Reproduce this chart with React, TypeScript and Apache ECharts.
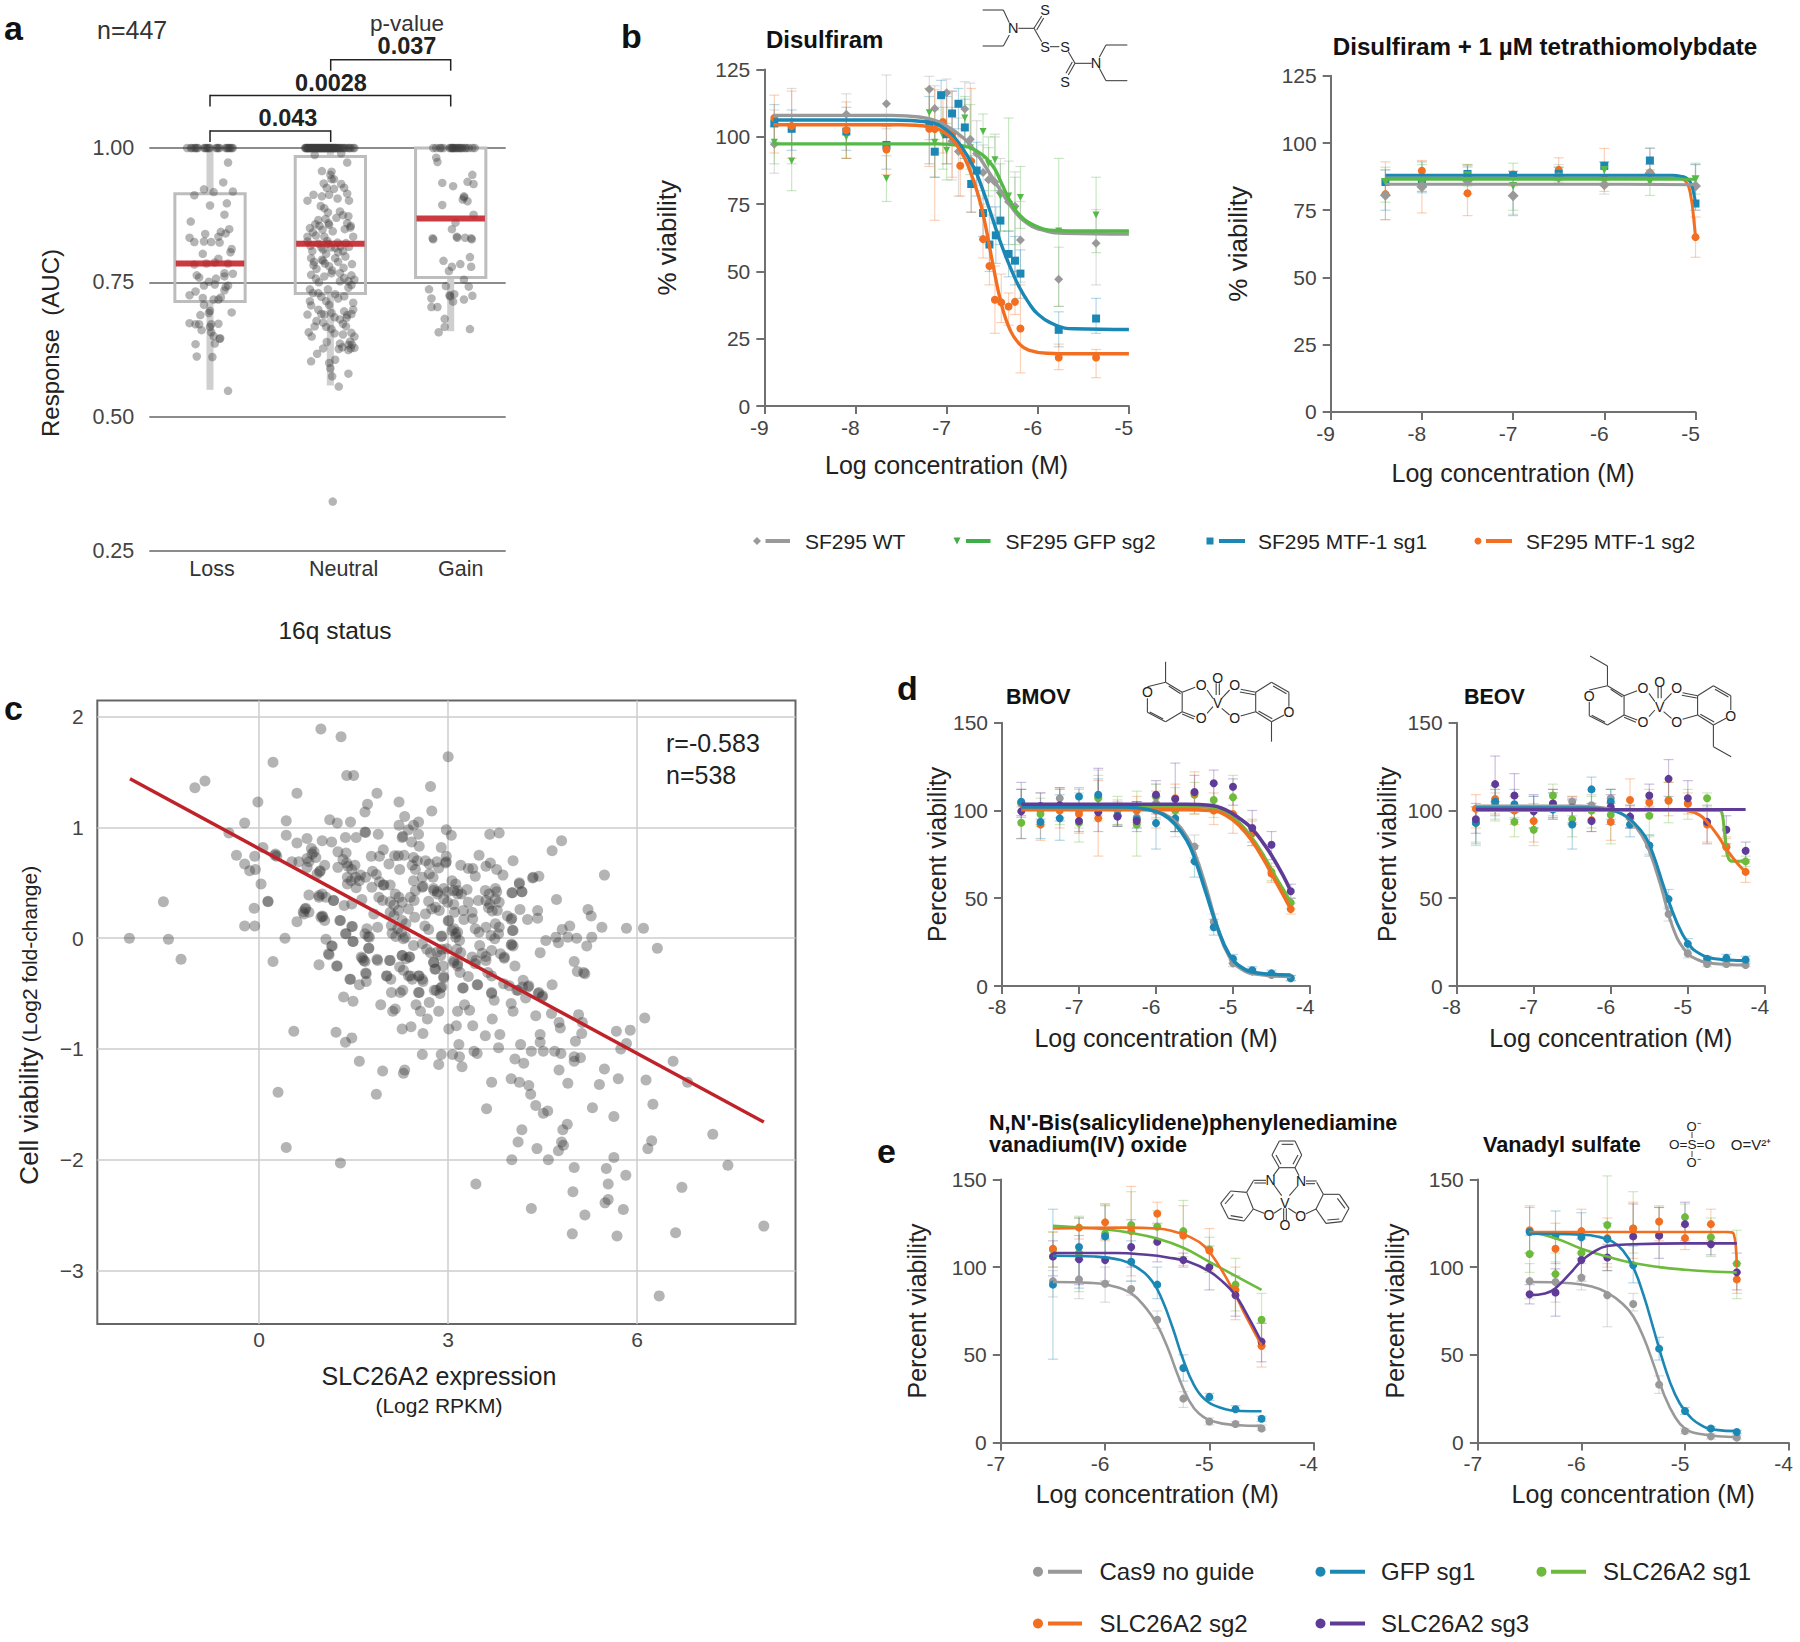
import React, { useEffect, useRef } from "react";
import * as echarts from "echarts";

const F = "'Liberation Sans', Arial, sans-serif";
const AC = "#707070";
const LC = "#444";
const TC = "#222";
const GRAY = "#999999";
const GREEN = "#55b947";
const BLUE = "#1b87b5";
const ORANGE = "#f26f21";
const PURPLE = "#5f3b98";

// ---------- panel a ----------
const aCategories = ["Loss", "Neutral", "Gain"];
const aPositions = [1, 2, 3];
const aLow = [0.55, 0.558, 0.659];
const aQ1 = [0.7145, 0.729, 0.759];
const aMedian = [0.785, 0.822, 0.869];
const aQ3 = [0.915, 0.984, 1.0];
const aHigh = [1.0, 1.0, 1.0];
const aLossAtOne = [.81,.84,.85,.87,.88,.89,.9,.95,.96,.97,.98,.99,1.0,1.05,1.06,1.07,1.08,1.13,1.14,1.15,1.16,1.17,1.18,1.19];
const aNeutralAtOne = [1.79,1.795,1.8,1.805,1.81,1.815,1.82,1.825,1.83,1.835,1.84,1.845,1.85,1.855,1.86,1.865,1.87,1.875,1.88,1.885,1.89,1.895,1.9,1.905,1.91,1.915,1.92,1.925,1.93,1.935,1.94,1.945,1.95,1.955,1.96,1.965,1.97,1.975,1.98,1.985,1.99,1.995,2,2.005,2.01,2.015,2.02,2.025,2.03,2.035,2.04,2.045,2.05,2.06,2.065,2.07,2.08,2.09,2.1,2.11,2.12,2.13,2.15,2.16,2.17,2.19,2.2];
const aGainAtOne = [2.855,2.88,2.91,2.92,2.94,2.99,3.0,3.01,3.015,3.02,3.03,3.04,3.05,3.06,3.07,3.08,3.09,3.1,3.12,3.13,3.15,3.18,3.2];
const aLoss = [[1.15,.973],[1.11,.936],[.95,.923],[1.03,.918],[.87,.912],[1.19,.919],[1.14,.897],[1,.893],[1.12,.876],[.84,.863],[1.16,.849],[.96,.84],[1.09,.844],[1.13,.841],[.83,.833],[1.07,.835],[.87,.825],[.95,.826],[1.01,.825],[1.08,.824],[1.18,.812],[1.17,.806],[.94,.803],[1.07,.794],[.97,.785],[1.04,.787],[1.15,.785],[.87,.783],[.89,.763],[1.12,.767],[1.19,.766],[.91,.759],[1.12,.761],[1.05,.757],[.99,.751],[.95,.744],[1.04,.746],[1.13,.741],[1.15,.744],[.88,.733],[.83,.726],[1.12,.735],[.94,.721],[1.09,.722],[1.03,.718],[1.07,.718],[.95,.708],[1,.697],[1.18,.694],[.92,.689],[.99,.693],[.83,.674],[.88,.672],[.91,.672],[1.01,.672],[1,.667],[1.07,.673],[.93,.661],[1.01,.657],[1.03,.65],[1.08,.645],[1.085,.646],[.88,.635],[1.04,.636],[.89,.612],[1.02,.611],[1.15,.548]];
const aNeutral = [[1.87,.987],[2.09,.99],[2.14,.973],[1.93,.957],[2.01,.956],[2,.95],[2.03,.942],[1.945,.934],[1.97,.926],[2.01,.942],[2.09,.933],[2.115,.926],[2.03,.924],[1.86,.913],[1.81,.902],[1.93,.91],[1.99,.913],[2.06,.906],[2.14,.915],[2.155,.902],[1.92,.892],[1.95,.888],[1.98,.88],[2.08,.882],[2.105,.875],[2.15,.873],[2.05,.87],[1.9,.866],[1.875,.858],[1.96,.868],[1.985,.86],[2.14,.86],[2.165,.852],[1.83,.851],[1.855,.843],[1.91,.855],[1.935,.848],[1.99,.857],[2.17,.855],[2.02,.845],[1.81,.835],[1.88,.837],[1.95,.835],[1.975,.827],[2.12,.849],[2.19,.835],[1.81,.826],[1.835,.818],[1.9,.822],[1.925,.815],[1.98,.822],[2.005,.815],[2.06,.824],[2.085,.817],[2.13,.823],[2.155,.816],[1.85,.808],[1.94,.811],[1.965,.803],[2.04,.814],[2.065,.806],[2.105,.808],[1.84,.795],[1.865,.788],[1.93,.792],[1.955,.785],[2.04,.795],[2.065,.788],[2.125,.798],[1.86,.782],[1.885,.775],[1.99,.78],[2.015,.772],[1.94,.79],[2.18,.784],[2.11,.777],[2.01,.767],[1.84,.764],[1.95,.761],[1.88,.757],[1.905,.75],[2.08,.767],[2.175,.763],[2.2,.755],[2.115,.758],[2.08,.752],[2.15,.752],[2.175,.745],[1.83,.737],[1.855,.73],[1.9,.73],[1.925,.723],[1.98,.737],[2.04,.728],[2.065,.72],[2.115,.724],[2.15,.74],[1.83,.715],[1.965,.715],[1.99,.708],[1.84,.707],[2.19,.712],[1.9,.699],[1.925,.691],[2.01,.693],[2.035,.685],[2.115,.696],[2.14,.689],[2.19,.699],[2.175,.691],[1.81,.69],[1.95,.69],[2.08,.681],[2.105,.673],[2.135,.684],[1.885,.678],[1.94,.675],[1.965,.667],[1.87,.668],[2.01,.663],[2.035,.655],[2.13,.668],[1.82,.657],[1.845,.649],[2.175,.656],[2.2,.649],[2.105,.653],[1.97,.639],[2.08,.636],[2.1,.629],[2.15,.634],[2.17,.627],[2.18,.634],[2.2,.628],[2.165,.64],[1.94,.627],[2.07,.626],[2.15,.624],[1.89,.617],[1.84,.603],[2.04,.606],[1.99,.6],[2,.59],[2.15,.58],[2.015,.575],[2.07,.556],[2.02,.342]];
const aGain = [[2.88,.982],[2.89,.974],[3.18,.95],[2.93,.935],[3.02,.929],[3.14,.937],[3.19,.933],[3.11,.91],[3.112,.908],[3.1,.904],[3.14,.901],[2.93,.894],[3.19,.876],[3.04,.861],[3.01,.849],[2.85,.832],[2.855,.83],[3.05,.835],[3.055,.833],[3.12,.833],[3.17,.832],[3.175,.83],[3.16,.797],[2.94,.79],[3.08,.784],[3.01,.779],[3.17,.779],[2.985,.771],[3.11,.755],[2.96,.743],[2.82,.737],[3.15,.742],[2.99,.726],[2.995,.724],[3.03,.728],[2.84,.72],[3.18,.725],[3.11,.718],[3.02,.714],[2.84,.704],[2.89,.704],[2.95,.682],[2.95,.667],[2.9,.657],[3.16,.663]];

// ---------- panel b ----------
const b1WT = [[-8.89,97.3,86.5,110],[-8.7,104.2,90,118],[-8.1,108.4,92,116],[-7.66,112.3,103,123],[-7.19,117.7,106,122.5],[-7.13,110.5,99,119],[-7,116.4,101,121.5],[-6.94,98.5,84,111],[-6.87,94.6,78,107],[-6.8,110.4,92,120.5],[-6.74,99.1,88,120],[-6.67,93.8,82,106],[-6.6,86.8,77,97],[-6.54,84.1,74,96],[-6.47,83.2,68,100],[-6.41,79.2,65,92],[-6.32,75.9,60,91],[-6.25,74.2,50,87],[-6.19,61.7,46,76],[-5.77,47.1,37,59],[-5.36,60.5,45,73]];
const b1GFP = [[-8.89,98,90,104],[-8.7,91,80,105],[-8.1,100,92,108],[-7.66,84.5,76,93],[-7.19,109,99,118],[-7.13,98,85,110],[-7.04,100.5,88,111],[-7,95,84,105],[-6.8,107,97,115],[-6.74,96,86,112],[-6.6,102,92,108.5],[-6.54,90,78,100],[-6.47,91.5,80,101],[-6.41,78,65,90],[-6.32,78,65,107],[-6.25,73,60,85],[-6.19,77.5,66,89],[-5.77,65,37,92],[-5.36,71,57,85]];
const b1SG1 = [[-8.89,105,98,112],[-8.7,103,95,110],[-8.1,102,95,111],[-7.66,97,88,104],[-7.19,105.5,90,115],[-7.13,94.5,85,106],[-7.06,115.5,104,121],[-7,101,90,115],[-6.94,108.7,98,117],[-6.87,112.3,103,118],[-6.8,103.5,92,114],[-6.73,82.5,72,93],[-6.67,87.5,78,98],[-6.6,71.7,63,80],[-6.53,60,50,71],[-6.46,63.4,53,74],[-6.41,68.9,60,80],[-6.32,56.5,48,65],[-6.25,54,45,63],[-6.19,49.2,40,58],[-5.77,28.3,22,35],[-5.36,32.5,27,40]];
const b1SG2 = [[-8.89,107,94,115.5],[-8.7,104,92,117],[-8.1,102.5,92,113],[-7.66,95.3,86,104],[-7.19,103,89,118],[-7.13,102.9,69,117.5],[-7.04,105.5,94,116],[-7,102.5,90,116],[-6.94,100.9,85,117],[-6.85,89.3,78,100],[-6.73,91,72,118],[-6.6,62,55,75],[-6.53,52,45,60],[-6.47,39.5,27,52],[-6.4,38.5,31,49],[-6.32,37,30,42],[-6.25,38.7,34,50],[-6.19,28.8,12.3,45],[-5.77,18,13.5,23],[-5.36,18,10.5,21]];
const b1WTCurve = [[-8.9,108],[-7.6,108],[-7.3,107.4],[-7.1,105.8],[-6.94,102.8],[-6.74,97],[-6.5,85],[-6.33,76],[-6.16,69],[-5.95,65.4],[-5.7,64.2],[-5,63.9]];
const b1GFPCurve = [[-8.9,97.4],[-7.1,97.4],[-6.85,96.8],[-6.68,95],[-6.5,89.5],[-6.4,83],[-6.31,76.5],[-6.2,71],[-6.03,67],[-5.81,65.2],[-5.5,65],[-5,65]];
const b1SG1Curve = [[-8.9,106.3],[-7.6,106.3],[-7.2,105.5],[-7,102.5],[-6.85,97],[-6.7,88.5],[-6.6,80],[-6.5,70],[-6.4,60],[-6.3,51.4],[-6.2,44],[-6.1,38.4],[-6,34.2],[-5.8,30],[-5.6,28.7],[-5,28.4]];
const b1SG2Curve = [[-8.9,104.5],[-7.5,104.5],[-7.2,103.8],[-7,101],[-6.85,95],[-6.75,88],[-6.65,78],[-6.57,66.5],[-6.5,54],[-6.4,38],[-6.3,28],[-6.2,23],[-6.1,20.8],[-5.9,19.6],[-5.6,19.4],[-5,19.4]];

const b2WT = [[-8.4,80.6,71.5,90],[-8,83.7,82,86],[-7.5,86,81,91],[-7,80.4,73.5,87],[-6.5,87.2,85,92],[-6,84.5,81,88],[-5.5,88.8,85,92],[-5,84,75,92]];
const b2GFP = [[-8.4,85.5,78,91],[-8,85,82,92],[-7.5,88,84,92],[-7,84,75,92.5],[-6.5,87.5,85,91],[-6,90,86,93],[-5.5,85.5,80.5,90],[-5,86.5,81,92.5]];
const b2SG1 = [[-8.4,85.5,75,90],[-8,85.5,81.5,93],[-7.5,88.5,85,91.5],[-7,88,73,89.5],[-6.5,88.5,86,91],[-6,91.5,88,93],[-5.5,93.5,88,98],[-5,77.5,75,92]];
const b2SG2 = [[-8.4,81,71.5,93],[-8,89.7,74,93.5],[-7.5,81.3,73,92],[-7,88.3,84,89.5],[-6.5,90,85,94.5],[-6,87,82,98],[-5.5,89,85,98.2],[-5,65,57.5,72.5]];
const b2WTCurve = [[-8.4,84.7],[-6,84.7],[-5,84.5]];
const b2GFPCurve = [[-8.4,86.5],[-6,86.5],[-5,86.5]];
const b2SG1Curve = [[-8.4,88],[-6,88],[-5.25,88],[-5.15,87.6],[-5.1,87],[-5.05,85],[-5,77.5]];
const b2SG2Curve = [[-8.4,87],[-6,87],[-5.2,87],[-5.1,85.5],[-5.05,80],[-5.02,72],[-5,65]];

// ---------- panel c ----------
const cXTicks = [0, 3, 6];
const cYTicks = [-3, -2, -1, 0, 1, 2];
const fitLine = [[-2.05, 1.44], [8.01, -1.66]];
const cPoints = [[-2.06,0],[-1.52,.33],[-1.44,-.01],[-1.24,-.19],[-1.02,1.36],[-.86,1.42],[-.23,1.04],[-.02,1.23],[.22,1.59],[.43,1.06],[.6,1.31],[.98,1.89],[1.3,1.82],[1.39,1.47],[1.5,1.47],[3,1.64],[2.72,1.37],[2.74,1.15],[2.22,1.23],[1.87,1.31],[1.72,1.21],[1.68,1.14],[2.31,1.1],[1.12,1.07],[1.24,1.04],[1.45,1.05],[2.53,1.05],[2.45,1.02],[2.22,1.02],[2.37,.98],[2.97,.98],[3.05,.93],[2.53,.94],[2.28,.92],[3.66,.94],[3.81,.95],[4.8,.88],[4.65,.79],[3.49,.75],[4.03,.7],[5.48,.57],[-.48,.95],[.43,.93],[.6,.86],[.76,.9],[1,.88],[1.15,.87],[1.37,.91],[1.54,.91],[1.68,.96],[1.69,.955],[1.89,.94],[-.36,.75],[-.23,.67],[-.15,.61],[-.06,.62],[-.07,.74],[.06,.82],[.25,.75],[.03,.49],[.14,.33],[-.08,.27],[-.23,.11],[-.07,.11],[.41,0],[.22,-.21],[.55,-.84],[.3,-1.39],[.43,-1.89],[1.29,-2.03],[1.86,-1.41],[1.96,-1.2],[2.31,-1.19],[2.29,-1.22],[1.59,-1.11],[1.22,-.85],[1.37,-.94],[1.47,-.9],[2.27,-.82],[2.41,-.8],[2.6,-.86],[2.59,-1.05],[2.89,-1.05],[2.85,-1.14],[3.07,-1.05],[3.17,-.96],[3.18,-1.07],[3.22,-1.16],[3.41,-1.02],[3.46,-1.04],[3.39,-.79],[3.59,-.88],[3.82,-.87],[3.8,-.99],[3.69,-1.3],[3.61,-1.54],[3.44,-2.22],[4,-1.27],[4.06,-1.09],[4.2,-1.13],[4.15,-.96],[4.32,-1.02],[4.13,-1.3],[4.28,-1.33],[4.31,-1.41],[4.39,-1.51],[4.51,-1.58],[4.58,-1.56],[4.17,-1.73],[4.11,-1.84],[4.01,-2],[4.41,-1.9],[4.59,-2],[4.32,-2.44],[4.89,-1.68],[4.82,-1.73],[4.8,-1.84],[4.83,-1.87],[4.75,-1.92],[5,-2.07],[4.98,-2.29],[5.17,-2.5],[4.97,-2.67],[5.68,-2.69],[5.78,-2.45],[5.49,-2.39],[5.54,-2.36],[5.54,-2.22],[5.51,-2.08],[5.63,-1.98],[5.82,-2.14],[5.63,-1.61],[5.29,-1.53],[5.4,-1.32],[5.48,-1.18],[5.7,-1.27],[4.9,-1.31],[4.76,-1.19],[5,-1.11],[5,-1.07],[5.1,-1.08],[4.79,-1.04],[4.69,-1.02],[4.51,-1.02],[4.46,-.94],[4.46,-.87],[4.39,-.7],[4.64,-.68],[4.76,-.76],[4.78,-.81],[5.02,-.93],[5.12,-.86],[5.13,-.76],[5.07,-.69],[5.67,-.84],[5.89,-.83],[5.83,-.95],[5.74,-1],[6.12,-.72],[6.14,-1.28],[6.25,-1.5],[6.23,-1.83],[6.17,-1.9],[6.57,-1.11],[6.8,-1.3],[7.2,-1.77],[7.44,-2.05],[6.71,-2.25],[6.61,-2.66],[6.35,-3.23],[8.01,-2.6],[6.32,-.09],[6.1,.09],[5.83,.09],[5.44,.1],[5.28,.01],[5.2,-.07],[5.27,.2],[5.22,.26],[4.93,.11],[4.81,.08],[4.71,.01],[4.75,-.04],[4.55,-.02],[4.9,.01],[5.04,0],[4.46,-.13],[5,-.21],[5.05,-.3],[5.15,-.31],[5.17,-.32],[4.65,-.42],[4.72,.35],[4.35,.55],[4.44,.56],[4.13,.49],[4.17,.42],[4.02,.41],[4.42,.25],[4.42,.18],[4.26,.17],[4.14,.26],
[2.27,.91],[2.42,.87],[2.54,.83],[2.89,.82],[.26,.76],[.28,.74],[.52,.69],[.63,.69],[.76,.72],[.79,.69],[.83,.81],[.87,.78],[.84,.76],[.9,.73],[.76,.64],[.92,.58],[.97,.61],[1.04,.66],[.96,.6],[1.25,.78],[1.38,.77],[1.33,.71],[1.39,.68],[1.25,.64],[1.41,.65],[1.47,.62],[1.52,.66],[1.4,.55],[1.46,.52],[1.53,.55],[1.59,.52],[1.69,.55],[1.61,.57],[1.4,.49],[1.54,.455],[1.8,.605],[1.86,.575],[1.78,.74],[1.91,.74],[1.97,.8],[2.06,.67],[2.15,.745],[2.21,.745],[2.3,.75],[2.23,.62],[2.45,.73],[2.51,.7],[2.43,.66],[2.48,.62],[2.64,.7],[2.7,.67],[2.82,.69],[2.97,.69],[2.85,.635],[2.7,.58],[2.76,.55],[2.45,.52],[2.59,.55],[1.91,.51],[1.97,.48],[1.79,.46],[2.08,.48],[1.98,.48],[2.16,.4],[2.22,.37],[1.9,.37],[1.96,.34],[2.08,.33],[2.14,.3],[2.4,.37],[2.46,.34],[2.48,.43],[2.59,.46],[2.77,.45],[2.83,.42],[2.93,.45],[2.99,.42],[3.06,.52],[3.12,.49],[3.09,.43],[3.15,.4],[2.93,.355],[2.99,.325],[2.8,.28],[2.86,.25],[2.74,.265],[2.69,.335],[.79,.39],[1,.4],[1.06,.37],[.95,.385],[1.18,.34],[1.35,.295],[1.47,.31],[1.63,.35],[.73,.265],[.79,.235],[.71,.22],[1,.2],[1.01,.195],[.6,.15],[.14,.335],[1.28,.16],[1.82,.22],[2.27,.325],[2.21,.25],[2.37,.265],[2.08,.235],[2.14,.205],[2.27,.16],[2.33,.13],[2.47,.19],[2.63,.11],[2.69,.08],[2.64,.22],[1.88,.1],[2.1,.115],[2.11,.045],[2.17,.015],[2.32,.01],[2.2,.085],[2.26,.055],[3.01,.16],[3.06,.07],[3.12,.04],[2.89,.015],[2.66,-.1],[2.72,-.13],[2.45,-.065],[2.59,-.05],[2.82,-.126],[2.88,-.155],[2.98,-.096],[3.09,-.2],[3.15,-.23],[2.77,-.216],[2.8,-.277],[2.93,-.346],[1.47,.105],[1.38,.04],[1.71,.085],[1.68,.04],[1.73,.015],[1.75,.01],[1.06,-.01],[1.16,-.07],[1.49,-.03],[1.74,-.09],[1.11,-.15],[.95,-.24],[1.24,-.25],[1.62,-.17],[1.64,-.18],[1.66,-.2],[1.68,-.21],[1.88,-.2],[2.08,-.2],[2.27,-.155],[2.33,-.185],[2.23,-.26],[2.29,-.29],[2.38,-.17],[1.69,-.315],[1.45,-.37],[2.03,-.34],[2.09,-.37],[2.37,-.34],[2.43,-.37],[2.53,-.34],[2.59,-.37],
[3.2,.66],[3.32,.63],[3.39,.63],[3.43,.56],[3.6,.65],[3.67,.68],[3.77,.62],[3.87,.57],[2.97,.74],[2.96,.68],[2.6,.47],[2.77,.43],[2.83,.4],[3.15,.43],[3.21,.4],[3.3,.44],[3.09,.305],[3.1,.235],[3.24,.25],[3.32,.325],[3.48,.34],[3.38,.235],[3.25,.17],[3.39,.175],[3,.155],[2.9,.02],[3.43,.085],[3.49,.055],[3.6,.34],[3.66,.31],[3.59,.43],[3.65,.4],[3.75,.45],[3.77,.42],[3.75,.355],[3.81,.325],[3.64,.275],[3.7,.245],[3.78,.25],[4.01,.41],[4.17,.42],[4.13,.5],[4.34,.545],[3.94,.2],[4,.17],[4.01,.18],[4.03,.07],[3.6,.1],[3.75,.13],[3.81,.1],[3.68,.025],[3.74,-.005],[3.8,.04],[3.09,.085],[3.15,.055],[3.12,.01],[3.18,-.02],[3.14,-.1],[3.2,-.13],[3.5,-.065],[3.69,-.11],[3.83,-.14],[3.89,-.17],[3.89,-.18],[4.01,-.055],[4.03,-.07],[3.54,-.135],[3.6,-.165],[3.38,-.17],[3.44,-.2],[3.43,-.23],[3.6,-.2],[3.63,-.31],[3.69,-.34],[4.06,-.25],[3.32,-.345],[3.19,-.31],[3.47,-.42],[3.23,-.45],[3.69,-.49],[3.88,-.41],[4.18,-.44],[4.28,-.43],[4.43,-.5],[4.49,-.53],[4.09,-.47],[2.9,-.1],[2.77,-.22],[2.79,-.28],[2.92,-.25],[2.93,-.36],[3.09,-.22],[3.15,-.25],[2.4,-.34],[2.54,-.34],[2.6,-.39],[2.54,-.49],[2.81,-.47],[2.87,-.5],[2.9,-.44],[2.29,-.005],[2.27,-.155],[2.39,-.17],
[4.02,.07],[4,-.06],[3.97,-.43],[4.19,-.38],[4.27,-.44],[4.44,-.49],[4.23,-.54],[4.5,-.52],[4.11,-.47],[3.69,-.5],[3.73,-.56],[4,-.59],[4.03,-.66],[3.7,-.73],[3.15,-.66],[3.26,-.6],[3.34,-.65],[3.13,-.79],[3.01,-.82],[3.24,-.45],[3.46,-.42],[2.85,-.66],[2.67,-.73],[2.49,-.6],[2.56,-.66],[2.7,-.58],[2.53,-.49],[2.78,-.47],[2.88,-.45],[2.28,-.47],[2.24,-.49],[2.1,-.49],[1.93,-.6],[2.12,-.66],[2.16,-.64],[1.34,-.53],[1.49,-.57],[1.44,-.37],[1.59,-.42],[1.7,-.32],[1.7,-.39],[2.02,-.34],[1.87,-.19],[2.07,-.2],[1.23,-.25],[1.1,-.14],[1.15,-.07],[1.37,.04],[1.49,-.03],[1.74,-.09],[1.29,.16],[1.48,.105],[.98,.19],[1.04,.16],[.7,.24],[.74,.27],[.95,.37],[1.18,.34]];

// ---------- panel d ----------
const d1Gray = [[-7.75,104,97,112],[-7.5,100,92,110],[-7.25,106.9,96,113],[-7,100,90,110],[-6.75,108,97,123],[-6.5,100,92,106],[-6.25,96,90,105],[-6,104,95,115],[-5.75,94.5,85,104],[-5.5,79.4,73,86],[-5.25,36.6,32,41],[-5,12.9,11,15],[-4.75,8.2,7,10],[-4.5,6.3,5,8],[-4.25,4.4,3,6]];
const d1Blue = [[-7.75,105,96,112],[-7.5,93.5,84,103],[-7.25,95.5,83,109],[-7,108,100,113],[-6.75,109,101,118],[-6.5,97,91,104],[-6.25,95,90,105],[-6,92.8,78,108],[-5.75,95.5,88,103],[-5.5,71,62,80],[-5.25,33.5,29,38],[-5,15.5,13,18],[-4.75,9,7,11],[-4.5,7.2,6,9],[-4.25,4.5,3,6]];
const d1Green = [[-7.75,93,84,102],[-7.5,98,91,107],[-7.25,102,92,112],[-7,93,82,103],[-6.75,107,94,120],[-6.5,97,92,108],[-6.25,92,74,111],[-6,108,96,115],[-5.75,100,88,113],[-5.5,109,98,116],[-5.25,106,96,115],[-5,107.5,98,120],[-4.75,87,80,95],[-4.5,65,60,70],[-4.25,47.5,44,50]];
const d1Orange = [[-7.75,104.5,97,112],[-7.5,92,83,102],[-7.25,100,90,112],[-7,98,87,112],[-6.75,95.5,74,117],[-6.5,97,91,105],[-6.25,100,93,108],[-6,100,90,111],[-5.75,107,98,115],[-5.5,110,98,122],[-5.25,100,92,110],[-5,98,87,107],[-4.75,87,80,94],[-4.5,64,59,68],[-4.25,43.8,41,47]];
const d1Purple = [[-7.75,99.5,84,116],[-7.5,102.5,95,110],[-7.25,103,94,113],[-7,94,88,103],[-6.75,99,88,124],[-6.5,96.5,91,103],[-6.25,94,88,105],[-6,109,98,117],[-5.75,106.5,88,127],[-5.5,110.5,101,120],[-5.25,115.5,103,123],[-5,113.5,103,118],[-4.75,90,82,100],[-4.5,80.5,72,88],[-4.25,54,50,58]];
const d1GrayCurve = [[-7.75,102],[-6.4,102],[-6.1,100.8],[-5.9,98],[-5.75,93.5],[-5.6,85],[-5.5,76],[-5.35,56],[-5.2,33],[-5.05,17],[-4.9,10],[-4.7,6.8],[-4.25,5.5]];
const d1BlueCurve = [[-7.75,102],[-6.4,102],[-6.1,100.5],[-5.9,97.5],[-5.75,92],[-5.6,83],[-5.5,73],[-5.35,53],[-5.2,33],[-5.05,18],[-4.9,11],[-4.7,7.6],[-4.25,6.3]];
const d1GreenCurve = [[-7.75,102.5],[-5.6,102.5],[-5.3,101.8],[-5.1,99],[-4.9,92],[-4.75,84],[-4.6,74],[-4.5,66],[-4.35,55],[-4.25,47.5]];
const d1OrangeCurve = [[-7.75,100.5],[-5.6,100.5],[-5.3,100],[-5.1,97.5],[-4.9,90.5],[-4.75,82.5],[-4.6,72],[-4.5,64],[-4.35,52],[-4.25,44]];
const d1PurpleCurve = [[-7.75,103.5],[-5.6,103.5],[-5.3,103],[-5.1,100.5],[-4.9,95],[-4.75,89.5],[-4.6,81],[-4.5,74.5],[-4.35,63],[-4.25,54]];

const d2Gray = [[-7.75,93,82,100],[-7.5,103,95,110],[-7.25,102,96,108],[-7,100,94,108],[-6.75,104,97,110],[-6.5,105,97,108],[-6.25,103,93,109],[-6,107,100,112],[-5.75,96,90,102],[-5.5,80,75,85],[-5.25,41,37,45],[-5,18.5,16,21],[-4.75,12.5,11,14],[-4.5,12.5,11,14],[-4.25,12,11,14]];
const d2Blue = [[-7.75,93,81,102],[-7.5,105,97,114],[-7.25,103.5,95,112],[-7,100,90,108],[-6.75,100.5,95,110],[-6.5,92,78,106],[-6.25,112,104,119],[-6,105,95,112],[-5.75,92,85,100],[-5.5,80,74,86],[-5.25,49.5,44,55],[-5,24,21,27],[-4.75,15.5,14,17],[-4.5,16,14,18],[-4.25,15,13,17]];
const d2Green = [[-7.75,93,80,102],[-7.5,105,94,112],[-7.25,93.5,85,102],[-7,89,80,100],[-6.75,108.5,100,115],[-6.5,95,85,106],[-6.25,100,90,108],[-6,97.5,81,112],[-5.75,96,90,103],[-5.5,97,86,106],[-5.25,106,93,116],[-5,104,95,112],[-4.75,107,102,110],[-4.5,79.5,74,85],[-4.25,71,68,74]];
const d2Orange = [[-7.75,101,90,109],[-7.5,106.5,98,112],[-7.25,100,92,108],[-7,94,82,104],[-6.75,103,95,112],[-6.5,102,92,108],[-6.25,94.5,88,104],[-6,93.5,83,104],[-5.75,106,95,118],[-5.5,104.5,98,112],[-5.25,105.5,97,116],[-5,104,98,110],[-4.75,92,82,100],[-4.5,79,74,84],[-4.25,65,59,70]];
const d2Purple = [[-7.75,95,87,104],[-7.5,115,105,131],[-7.25,108.5,99,121],[-7,99.5,90,109],[-6.75,104,96,112],[-6.5,101.5,93,107],[-6.25,94,88,102],[-6,102,92,109],[-5.75,96.5,90,103],[-5.5,108.5,102,115],[-5.25,118,108,129],[-5,107,100,117],[-4.75,93.5,81,103],[-4.5,89,81,97],[-4.25,77,72,82]];
const d2GrayCurve = [[-7.75,102.5],[-6.4,102.5],[-6.1,101.5],[-5.9,99],[-5.75,94.5],[-5.6,86],[-5.5,77],[-5.35,57],[-5.2,34],[-5.05,21],[-4.9,15.5],[-4.7,13],[-4.25,12]];
const d2BlueCurve = [[-7.75,101.5],[-6.3,101.5],[-6.05,100.5],[-5.85,98],[-5.7,93],[-5.55,85],[-5.45,75],[-5.3,55],[-5.15,37],[-5,24.5],[-4.85,18.5],[-4.65,15.5],[-4.25,14.5]];
const d2GreenCurve = [[-7.75,100],[-4.6,100],[-4.56,99],[-4.53,90],[-4.5,78],[-4.47,72.5],[-4.42,71],[-4.25,71]];
const d2OrangeCurve = [[-7.75,100.5],[-5.2,100.5],[-5,99.8],[-4.85,97.5],[-4.75,93.5],[-4.6,85],[-4.5,78],[-4.35,69.5],[-4.25,65]];
const d2PurpleCurve = [[-7.75,100.5],[-6,100.5],[-4.25,100.5]];

// ---------- panel e ----------
const e1Gray = [[-6.5,92,83,98],[-6.25,93,82,104],[-6,90.5,80,100],[-5.75,87.5,84,92],[-5.5,70,65,75],[-5.25,25,20,29],[-5,12,10,14],[-4.75,10.5,9,12],[-4.5,8,7,10]];
const e1Blue = [[-6.5,90,47.5,133],[-6.25,111.5,88,128],[-6,117.5,105,135],[-5.75,103,92,115],[-5.5,90,82,100],[-5.25,42.5,35,50],[-5,26,24,28],[-4.75,19,18,21],[-4.5,13.5,12,15]];
const e1Green = [[-6.5,110,100,120],[-6.25,108,86,129],[-6,119,106,136],[-5.75,124,108,143],[-5.5,123,114,132],[-5.25,120.5,106,138],[-5,110,97,117],[-4.75,90,75,105],[-4.5,70,55,85]];
const e1Orange = [[-6.5,110.5,100,120],[-6.25,122.5,116,128],[-6,125.5,115,136],[-5.75,120.5,95,146],[-5.5,130.5,124,137],[-5.25,118,101,135],[-5,109.5,98,122],[-4.75,87,70,100],[-4.5,55,43,68]];
const e1Purple = [[-6.5,106,95,115],[-6.25,104.5,90,118],[-6,104,92,116],[-5.75,111.5,100,127],[-5.5,114.5,103,125],[-5.25,104,100,108],[-5,100,87,112],[-4.75,84,72,95],[-4.5,57.5,46,68]];
const e1GrayCurve = [[-6.5,91.5],[-6.15,91],[-5.95,89.5],[-5.75,85],[-5.6,76],[-5.5,67],[-5.4,54],[-5.3,38],[-5.2,24.5],[-5.1,16.5],[-4.95,11.8],[-4.75,10],[-4.5,9.5]];
const e1BlueCurve = [[-6.5,106.5],[-6.1,106],[-5.85,104],[-5.7,100],[-5.55,92],[-5.45,81],[-5.35,65],[-5.25,47],[-5.15,33],[-5.05,25],[-4.9,20],[-4.7,18],[-4.5,17.8]];
const e1GreenCurve = [[-6.5,123.5],[-6.25,122.6],[-6,121.5],[-5.75,119.5],[-5.5,116.3],[-5.25,111],[-5,103],[-4.75,95],[-4.5,87]];
const e1OrangeCurve = [[-6.5,122],[-5.8,122.5],[-5.5,122],[-5.35,120.5],[-5.2,117.5],[-5.05,112],[-4.9,100],[-4.75,84],[-4.65,72],[-4.5,55.4]];
const e1PurpleCurve = [[-6.5,108],[-5.9,108],[-5.6,107],[-5.4,105.5],[-5.2,103],[-5,97.5],[-4.87,91.5],[-4.75,84],[-4.65,74],[-4.5,57.4]];

const e2Gray = [[-6.5,92,82,102],[-6.25,91.5,80,103],[-6,94,87,102],[-5.75,84,66,102],[-5.5,79,75,85],[-5.25,33,28,38],[-5,6.5,5,8],[-4.75,3.5,2,5],[-4.5,2.8,2,4]];
const e2Blue = [[-6.5,120,108,134],[-6.25,118,102,132],[-6,117,105,131],[-5.75,116,106,125],[-5.5,101,91,112],[-5.25,53.5,47,60],[-5,18,16,20],[-4.75,8,7,9],[-4.5,6,5,7]];
const e2Green = [[-6.5,107.5,97,118],[-6.25,96,85,108],[-6,108,95,120],[-5.75,124,98,152],[-5.5,122,108,143],[-5.25,118,100,135],[-5,128.5,120,136],[-4.75,117,106,128],[-4.5,102,82,121]];
const e2Orange = [[-6.5,121,108,135],[-6.25,110.5,96,125],[-6,120.5,108,133],[-5.75,116.5,100,128],[-5.5,122,105,137],[-5.25,126,115,134],[-5,116.5,110,123],[-4.75,124.5,115,133],[-4.5,93,85,102]];
const e2Purple = [[-6.5,84.5,79,90],[-6.25,85.5,72,99],[-6,104,92,116],[-5.75,105.5,98,113],[-5.5,117.5,102,136],[-5.25,118,105,134],[-5,124.5,115,137],[-4.75,113,107,120],[-4.5,97,87,108]];
const e2GrayCurve = [[-6.5,91.5],[-6.1,90.8],[-5.9,89],[-5.75,85.5],[-5.6,79],[-5.5,72],[-5.4,60],[-5.3,44],[-5.2,27],[-5.1,15],[-5,8],[-4.85,4.8],[-4.5,3]];
const e2BlueCurve = [[-6.5,119],[-6,118.5],[-5.85,117.5],[-5.7,114.5],[-5.6,109.5],[-5.5,100],[-5.4,84],[-5.3,64],[-5.2,44],[-5.1,28],[-5,18],[-4.85,10],[-4.7,7.2],[-4.5,6.5]];
const e2GreenCurve = [[-6.5,120],[-6.25,116.5],[-6,110.5],[-5.75,106],[-5.5,102.3],[-5.25,100],[-5,98.5],[-4.75,97.5],[-4.5,97]];
const e2OrangeCurve = [[-6.5,120],[-5.5,120],[-4.6,120],[-4.55,119.8],[-4.53,119],[-4.51,112],[-4.5,100]];
const e2PurpleCurve = [[-6.5,84],[-6.35,85],[-6.25,88],[-6.1,97],[-6,103.5],[-5.9,108],[-5.75,112],[-5.5,113],[-5,113.5],[-4.5,113.5]];

// ---------- helpers ----------
const txt = (text: string, x: number, y: number, o: any = {}) => ({
  type: "text", x, y, rotation: o.rot || 0, silent: true, z: 20,
  style: {
    text, fontFamily: F, fontSize: o.size || 24, fontWeight: o.weight || "normal",
    fill: o.color || TC, align: o.align || "left", textAlign: o.align || "left",
    verticalAlign: "middle", textVerticalAlign: "middle",
  },
});
const ln = (x1: number, y1: number, x2: number, y2: number, w = 1.2, color = "#444") => ({
  type: "line", silent: true, z: 20, shape: { x1, y1, x2, y2 }, style: { stroke: color, lineWidth: w },
});

const molecule = (bonds: number[][], atoms: any[], ox: number, oy: number, sx: number, sy: number, size = 13, w = 1) => [
  ...bonds.map((b) => ln(ox + b[0] / sx, oy + b[1] / sy, ox + b[2] / sx, oy + b[3] / sy, w, "#444")),
  ...atoms.map((a) => txt(a[0], ox + a[1] / sx, oy + a[2] / sy, { size, align: "center", color: "#222" })),
];

const disulfiramBonds = [[68,30,130,30],[130,30,148,68],[68,138,130,138],[130,138,148,105],[175,85,222,85],[222,85,245,48],[230,90,251,54],[222,85,245,125],[270,140,298,140],[325,155,345,190],[345,190,395,190],[345,190,325,225],[337,186,318,220],[418,172,438,135],[438,135,502,135],[418,205,438,242],[438,242,502,242]];
const disulfiramAtoms = [["N",160,85],["S",255,30],["S",255,140],["S",315,140],["N",408,188],["S",315,245]];
const pyranBonds = [[44,110,90,97],[90,97,132,127],[98,108,128,131],[132,127,132,185],[132,185,90,215],[90,215,44,187],[84,207,50,186],[44,187,44,145],[132,127,165,112],[132,185,165,200],[132,192,162,207],[218,135,218,100],[226,135,226,100],[195,120,210,145],[195,190,210,170],[232,145,252,120],[232,175,252,195],[280,118,318,127],[278,126,316,134],[280,198,318,185],[318,127,318,185],[318,127,358,97],[358,97,402,127],[362,108,396,131],[402,127,402,170],[318,185,358,215],[325,183,360,206],[358,215,390,195]];
const pyranAtoms = [["O",44,127],["O",180,105],["O",180,205],["V",222,160],["O",222,85],["O",265,105],["O",265,205],["O",402,187]];
const bmovBonds = [...pyranBonds,[90,97,90,35],[358,215,358,275]];
const beovBonds = [...pyranBonds,[90,97,90,38],[90,38,46,8],[358,215,358,280],[358,280,403,310]];
const salenBonds = [[238,108,285,108],[285,108,305,150],[305,150,285,188],[285,188,238,188],[238,188,216,150],[216,150,238,108],[245,118,280,118],[294,150,279,178],[228,150,243,178],[238,188,220,212],[285,188,297,212],[198,226,160,226],[198,234,163,234],[160,228,140,262],[140,262,92,258],[92,258,62,295],[62,295,85,340],[85,340,132,348],[132,348,160,312],[160,312,140,262],[100,268,75,297],[92,332,128,338],[160,312,192,325],[318,228,350,228],[318,236,345,236],[350,232,370,268],[370,268,418,268],[418,268,447,310],[447,310,425,350],[425,350,378,355],[378,355,348,312],[348,312,370,268],[412,280,435,310],[418,342,382,345],[348,312,318,326],[222,240,245,272],[293,243,268,272],[222,325,245,310],[288,325,265,310],[251,310,251,345],[259,310,259,345]];
const salenAtoms = [["N",212,226],["N",303,228],["O",207,330],["O",302,332],["V",255,293],["O",255,360]];

function errorRender(color: string, cap: number, opacity = 0.32) {
  return (_p: any, api: any) => {
    const x = api.value(0);
    const a = api.coord([x, api.value(1)]);
    const b = api.coord([x, api.value(2)]);
    const st = { stroke: color, lineWidth: 1.2, opacity };
    return {
      type: "group",
      children: [
        { type: "line", shape: { x1: a[0], y1: a[1], x2: b[0], y2: b[1] }, style: st },
        { type: "line", shape: { x1: a[0] - cap, y1: a[1], x2: a[0] + cap, y2: a[1] }, style: st },
        { type: "line", shape: { x1: b[0] - cap, y1: b[1], x2: b[0] + cap, y2: b[1] }, style: st },
      ],
    };
  };
}

function dose(grid: number, defs: any[], o: { lw: number; cap: number; size: number }) {
  const err = defs.map((d) => ({
    type: "custom", xAxisIndex: grid, yAxisIndex: grid, silent: true, clip: false,
    encode: { x: 0, y: [1, 2] },
    renderItem: errorRender(d.color, o.cap),
    data: d.pts.map((p: number[]) => [p[0], p[2], p[3]]),
  }));
  const lines = defs.map((d) => ({
    type: "line", xAxisIndex: grid, yAxisIndex: grid, silent: true, clip: false, showSymbol: false, symbol: "none",
    smooth: 0.45,
    lineStyle: { color: d.lineColor || d.color, width: o.lw }, data: d.curve,
  }));
  const marks = defs.map((d) => ({
    type: "scatter", xAxisIndex: grid, yAxisIndex: grid, silent: true, clip: false,
    symbol: d.symbol || "circle", symbolRotate: d.rotate || 0, symbolSize: d.size || o.size,
    itemStyle: { color: d.color, opacity: 1 },
    data: d.pts.map((p: number[]) => [p[0], p[1]]),
  }));
  return [...err, ...lines, ...marks];
}

const grid = (left: number, top: number, width: number, height: number) => ({ left, top, width, height, containLabel: false });

const doseX = (gridIndex: number, min: number, max: number, gap: number, margin: number) => ({
  gridIndex, type: "value", min, max, interval: 1, name: "Log concentration (M)", nameLocation: "middle", nameGap: gap,
  nameTextStyle: { fontSize: 25, color: TC, fontFamily: F, verticalAlign: "middle" },
  axisLine: { show: true, onZero: false, lineStyle: { color: AC, width: 2 } },
  axisTick: { show: true, length: 8, lineStyle: { color: AC, width: 2 } },
  axisLabel: { fontSize: 21, color: LC, fontFamily: F, margin, padding: [0, 10, 0, 0] },
  splitLine: { show: false },
});
const doseY = (gridIndex: number, max: number, interval: number, name: string, gap: number, nameSize: number) => ({
  gridIndex, type: "value", min: 0, max, interval, name, nameLocation: "middle", nameGap: gap,
  nameTextStyle: { fontSize: nameSize, color: TC, fontFamily: F, verticalAlign: "middle" },
  axisLine: { show: true, onZero: false, lineStyle: { color: AC, width: 2 } },
  axisTick: { show: true, length: 8, lineStyle: { color: AC, width: 2 } },
  axisLabel: { fontSize: 21, color: LC, fontFamily: F, margin: 14, padding: [0, 0, 3, 0] },
  splitLine: { show: false },
});

const legendLine = (mx: number, x1: number, x2: number, y: number, color: string, label: string, tx: number, size: number, marker: string, ms: number) => {
  const els: any[] = [ln(x1, y, x2, y, 4, color)];
  if (marker === "circle") els.push({ type: "circle", silent: true, shape: { cx: mx, cy: y, r: ms }, style: { fill: color } });
  if (marker === "rect") els.push({ type: "rect", silent: true, shape: { x: mx - ms, y: y - ms, width: 2 * ms, height: 2 * ms }, style: { fill: color } });
  if (marker === "diamond") els.push({ type: "polygon", silent: true, shape: { points: [[mx, y - ms], [mx + ms, y], [mx, y + ms], [mx - ms, y]] }, style: { fill: color } });
  if (marker === "tri") els.push({ type: "polygon", silent: true, shape: { points: [[mx - ms, y - ms], [mx + ms, y - ms], [mx, y + ms]] }, style: { fill: color } });
  els.push(txt(label, tx, y, { size }));
  return els;
};

export default function App() {
  const ref = useRef<HTMLDivElement>(null);
  useEffect(() => {
    const chart = echarts.init(ref.current!, null, { renderer: "svg" });

    const boxData = aPositions.map((x, i) => [x, aLow[i], aQ1[i], aMedian[i], aQ3[i], aHigh[i]]);
    const halfBox = 0.292;
    const boxSeries = {
      type: "custom", xAxisIndex: 0, yAxisIndex: 0, silent: true, clip: false, encode: { x: 0, y: [1, 5] },
      renderItem: (_p: any, api: any) => {
        const x = api.value(0);
        const c = (dx: number, v: number) => api.coord([x + dx, v]);
        const lo = c(0, api.value(1)), q1 = c(0, api.value(2)), q3 = c(0, api.value(4)), hi = c(0, api.value(5));
        const l = c(-halfBox, 0)[0], r = c(halfBox, 0)[0];
        const ws = { stroke: "#cfcfcf", lineWidth: 7 };
        return {
          type: "group",
          children: [
            { type: "line", shape: { x1: lo[0], y1: lo[1], x2: q1[0], y2: q1[1] }, style: ws },
            { type: "line", shape: { x1: q3[0], y1: q3[1], x2: hi[0], y2: hi[1] }, style: ws },
            { type: "rect", shape: { x: l, y: q3[1], width: r - l, height: q1[1] - q3[1] }, style: { fill: "none", stroke: "#bdbdbd", lineWidth: 3 } },
          ],
        };
      },
      data: boxData,
    };
    const medianSeries = {
      type: "custom", xAxisIndex: 0, yAxisIndex: 0, silent: true, clip: false, encode: { x: 0, y: 3 }, z: 5,
      renderItem: (_p: any, api: any) => {
        const x = api.value(0);
        const a = api.coord([x - 0.284, api.value(3)]);
        const b = api.coord([x + 0.284, api.value(3)]);
        return { type: "line", shape: { x1: a[0], y1: a[1], x2: b[0], y2: b[1] }, style: { stroke: "#c41f26", lineWidth: 6, opacity: 0.88 } };
      },
      data: boxData,
    };
    const aScatter = (d: number[][]) => ({
      type: "scatter", xAxisIndex: 0, yAxisIndex: 0, silent: true, clip: false, symbolSize: 8.5,
      itemStyle: { color: "#3c3c3c", opacity: 0.38 }, data: d,
    });

    const bDefs1 = [
      { pts: b1WT, curve: b1WTCurve, color: GRAY, symbol: "diamond", size: 9 },
      { pts: b1GFP, curve: b1GFPCurve, color: GREEN, symbol: "triangle", rotate: 180, size: 7 },
      { pts: b1SG1, curve: b1SG1Curve, color: BLUE, symbol: "rect", size: 8 },
      { pts: b1SG2, curve: b1SG2Curve, color: ORANGE, symbol: "circle", size: 8 },
    ];
    const bDefs2 = [
      { pts: b2SG2, curve: b2SG2Curve, color: ORANGE, symbol: "circle", size: 8 },
      { pts: b2SG1, curve: b2SG1Curve, color: BLUE, symbol: "rect", size: 8 },
      { pts: b2GFP, curve: b2GFPCurve, color: GREEN, symbol: "triangle", rotate: 180, size: 8 },
      { pts: b2WT, curve: b2WTCurve, color: GRAY, symbol: "diamond", size: 11 },
    ];
    const five = (g: any, b: any, gr: any, o: any, p: any, gc: any, bc: any, grc: any, oc: any, pc: any) => [
      { pts: g, curve: gc, color: GRAY },
      { pts: gr, curve: grc, color: "#6cbb3c" },
      { pts: o, curve: oc, color: ORANGE },
      { pts: b, curve: bc, color: BLUE },
      { pts: p, curve: pc, color: PURPLE },
    ];

    const atOne = (xs: number[]) => xs.map((x) => [x, 1]);
    const series: any[] = [
      boxSeries,
      aScatter(atOne(aLossAtOne)), aScatter(atOne(aNeutralAtOne)), aScatter(atOne(aGainAtOne)),
      aScatter(aLoss), aScatter(aNeutral), aScatter(aGain),
      medianSeries,
      ...dose(1, bDefs1, { lw: 3.4, cap: 5, size: 8 }),
      ...dose(2, bDefs2, { lw: 3, cap: 5, size: 8 }),
      {
        type: "scatter", xAxisIndex: 3, yAxisIndex: 3, silent: true, symbolSize: 11,
        itemStyle: { color: "#3a3a3a", opacity: 0.38 }, data: cPoints,
      },
      {
        type: "line", xAxisIndex: 3, yAxisIndex: 3, silent: true, showSymbol: false, symbol: "none",
        lineStyle: { color: "#c0222a", width: 3.5 }, data: fitLine,
      },
      ...dose(4, five(d1Gray, d1Blue, d1Green, d1Orange, d1Purple, d1GrayCurve, d1BlueCurve, d1GreenCurve, d1OrangeCurve, d1PurpleCurve), { lw: 3.6, cap: 5, size: 8 }),
      ...dose(5, five(d2Gray, d2Blue, d2Green, d2Orange, d2Purple, d2GrayCurve, d2BlueCurve, d2GreenCurve, d2OrangeCurve, d2PurpleCurve), { lw: 3, cap: 5, size: 8 }),
      ...dose(6, five(e1Gray, e1Blue, e1Green, e1Orange, e1Purple, e1GrayCurve, e1BlueCurve, e1GreenCurve, e1OrangeCurve, e1PurpleCurve), { lw: 2.6, cap: 5, size: 8 }),
      ...dose(7, five(e2Gray, e2Blue, e2Green, e2Orange, e2Purple, e2GrayCurve, e2BlueCurve, e2GreenCurve, e2OrangeCurve, e2PurpleCurve), { lw: 2.6, cap: 5, size: 8 }),
    ];

    const elements: any[] = [
      txt("a", 4, 28, { size: 34, weight: "bold", color: "#111" }),
      txt("b", 621, 36, { size: 34, weight: "bold", color: "#111" }),
      txt("c", 4, 708, { size: 34, weight: "bold", color: "#111" }),
      txt("d", 897, 688, { size: 34, weight: "bold", color: "#111" }),
      txt("e", 877, 1151, { size: 34, weight: "bold", color: "#111" }),
      txt("n=447", 97, 30, { size: 25, color: "#333" }),
      txt("p-value", 407, 23, { size: 22.5, align: "center", color: "#333" }),
      txt("0.037", 407, 46, { size: 23.5, weight: "bold", align: "center" }),
      txt("0.0028", 331, 83, { size: 23.5, weight: "bold", align: "center" }),
      txt("0.043", 288, 118, { size: 23.5, weight: "bold", align: "center" }),
      ln(210, 131, 330.7, 131, 1.5, "#222"), ln(210, 130.3, 210, 142, 1.5, "#222"), ln(330.7, 130.3, 330.7, 142, 1.5, "#222"),
      ln(210, 95.5, 450.7, 95.5, 1.5, "#222"), ln(210, 94.8, 210, 106.5, 1.5, "#222"), ln(450.7, 94.8, 450.7, 106.5, 1.5, "#222"),
      ln(330.7, 59.8, 450.7, 59.8, 1.5, "#222"), ln(330.7, 59, 330.7, 70.7, 1.5, "#222"), ln(450.7, 59, 450.7, 70.7, 1.5, "#222"),
      txt(aCategories[0], 212, 569, { size: 21.5, align: "center", color: "#333" }),
      txt(aCategories[1], 343.6, 569, { size: 21.5, align: "center", color: "#333" }),
      txt(aCategories[2], 460.7, 569, { size: 21.5, align: "center", color: "#333" }),
      txt("16q status", 335, 630, { size: 24.5, align: "center" }),
      txt("Response  (AUC)", 50, 343, { size: 24, align: "center", rot: Math.PI / 2 }),
      txt("Disulfiram", 766, 39, { size: 24, weight: "bold", color: "#111" }),
      txt("Disulfiram + 1 µM tetrathiomolybdate", 1545, 46, { size: 24.2, weight: "bold", align: "center", color: "#111" }),
      ...molecule(disulfiramBonds, disulfiramAtoms, 960, 0, 3, 3, 14.5, 1.1),
      ...legendLine(757, 765.5, 790, 541, "#9a9a9a", "SF295 WT", 805, 21, "diamond", 4),
      ...legendLine(957, 966, 990.5, 541, "#3fae49", "SF295 GFP sg2", 1005.5, 21, "tri", 3.5),
      ...legendLine(1210, 1219, 1245, 541, BLUE, "SF295 MTF-1 sg1", 1258, 21, "rect", 3.5),
      ...legendLine(1478, 1486, 1512, 541, ORANGE, "SF295 MTF-1 sg2", 1526, 21, "circle", 3.5),
      txt("r=-0.583", 666, 743, { size: 25, color: "#222" }),
      txt("n=538", 666, 774.5, { size: 25, color: "#222" }),
      txt("SLC26A2 expression", 439, 1376, { size: 25, align: "center" }),
      txt("(Log2 RPKM)", 439, 1405, { size: 21, align: "center" }),
      txt("Cell viability", 29, 1116, { size: 26, align: "center", rot: Math.PI / 2 }),
      txt("(Log2 fold-change)", 29, 954, { size: 21, align: "center", rot: Math.PI / 2 }),
      txt("BMOV", 1006, 697, { size: 21.5, weight: "bold", color: "#111" }),
      txt("BEOV", 1464, 697, { size: 21.5, weight: "bold", color: "#111" }),
      ...molecule(bmovBonds, pyranAtoms, 1130, 650, 2.53, 3, 14, 1.1),
      ...molecule(beovBonds, pyranAtoms, 1130 + 1118 / 2.53, 650 + 10 / 3, 2.53, 3, 14, 1.1),
      txt("N,N'-Bis(salicylidene)phenylenediamine", 989, 1122.7, { size: 21.6, weight: "bold", color: "#111" }),
      txt("vanadium(IV) oxide", 989, 1144.6, { size: 21.6, weight: "bold", color: "#111" }),
      txt("Vanadyl sulfate", 1483, 1144.6, { size: 21.7, weight: "bold", color: "#111" }),
      ...molecule(salenBonds, salenAtoms, 1200, 1105, 3, 3, 14, 1.1),
      txt("O⁻", 1693.5, 1126, { size: 13, align: "center" }),
      txt("O=S=O", 1692, 1144.6, { size: 13.5, align: "center" }),
      txt("O⁻", 1693.5, 1162, { size: 13, align: "center" }),
      txt("O=V²⁺", 1751, 1144, { size: 15, align: "center" }),
      ln(1692, 1132, 1692, 1138, 1), ln(1692, 1151, 1692, 1157, 1),
      ...legendLine(1038, 1048, 1082, 1571.7, GRAY, "Cas9 no guide", 1099.5, 24, "circle", 5),
      ...legendLine(1320.5, 1330, 1365, 1571.7, BLUE, "GFP sg1", 1381, 24, "circle", 5),
      ...legendLine(1541.5, 1551, 1586, 1571.7, "#6cbb3c", "SLC26A2 sg1", 1603, 24, "circle", 5),
      ...legendLine(1038, 1048, 1082, 1623.5, ORANGE, "SLC26A2 sg2", 1099.5, 24, "circle", 5),
      ...legendLine(1320.5, 1330, 1365, 1623.5, PURPLE, "SLC26A2 sg3", 1381, 24, "circle", 5),
    ];

    chart.setOption({
      animation: false,
      backgroundColor: "#fff",
      grid: [
        grid(149.3, 148, 356.4, 403),
        grid(764.3, 69.6, 364.6, 336.4),
        grid(1330.7, 75.8, 364.8, 336.1),
        { ...grid(97.3, 700.4, 698.2, 623.6), show: true, borderColor: "#666", borderWidth: 2 },
        grid(1002, 722.7, 308, 263.3),
        grid(1456.6, 722.7, 308.3, 263.3),
        grid(1000.8, 1179.4, 312.9, 263.1),
        grid(1477.8, 1179.4, 310.8, 263.1),
      ],
      xAxis: [
        { gridIndex: 0, type: "value", min: 0.4956, max: 3.457, show: false },
        doseX(1, -9, -5, 59, 11),
        doseX(2, -9, -5, 61, 11),
        {
          gridIndex: 3, type: "value", min: -2.569, max: 8.513,
          axisLine: { show: false }, axisTick: { show: false, customValues: cXTicks },
          axisLabel: { fontSize: 21, color: LC, fontFamily: F, margin: 5, customValues: cXTicks },
          splitLine: { show: true, lineStyle: { color: "#cccccc", width: 1.5 } },
        },
        doseX(4, -8, -4, 52, 9.5),
        doseX(5, -8, -4, 52, 9.5),
        doseX(6, -7, -4, 51.5, 10),
        doseX(7, -7, -4, 51.5, 10),
      ],
      yAxis: [
        {
          gridIndex: 0, type: "value", min: 0.25, max: 1, interval: 0.25,
          axisLine: { show: false }, axisTick: { show: false },
          axisLabel: { fontSize: 21.5, color: LC, fontFamily: F, margin: 15, padding: [0, 0, 2, 0], formatter: (v: number) => v.toFixed(2) },
          splitLine: { show: true, lineStyle: { color: "#666", width: 1.6 } },
        },
        doseY(1, 125, 25, "% viability", 97, 26),
        doseY(2, 125, 25, "% viability", 93, 26),
        {
          gridIndex: 3, type: "value", min: -3.484, max: 2.148,
          axisLine: { show: false }, axisTick: { show: false, customValues: cYTicks },
          axisLabel: { fontSize: 21, color: LC, fontFamily: F, margin: 13.5, padding: [0, 0, 2, 0], customValues: cYTicks, formatter: (v: number) => String(v).replace("-", "\u2212") },
          splitLine: { show: true, lineStyle: { color: "#cccccc", width: 1.5 } },
        },
        doseY(4, 150, 50, "Percent viability", 65, 25),
        doseY(5, 150, 50, "Percent viability", 70, 25),
        doseY(6, 150, 50, "Percent viability", 84, 25),
        doseY(7, 150, 50, "Percent viability", 83, 25),
      ],
      series,
      graphic: { elements },
    });
    return () => chart.dispose();
  }, []);
  return <div ref={ref} style={{ position: "absolute", left: 0, top: 0, width: 1800, height: 1642 }} />;
}
